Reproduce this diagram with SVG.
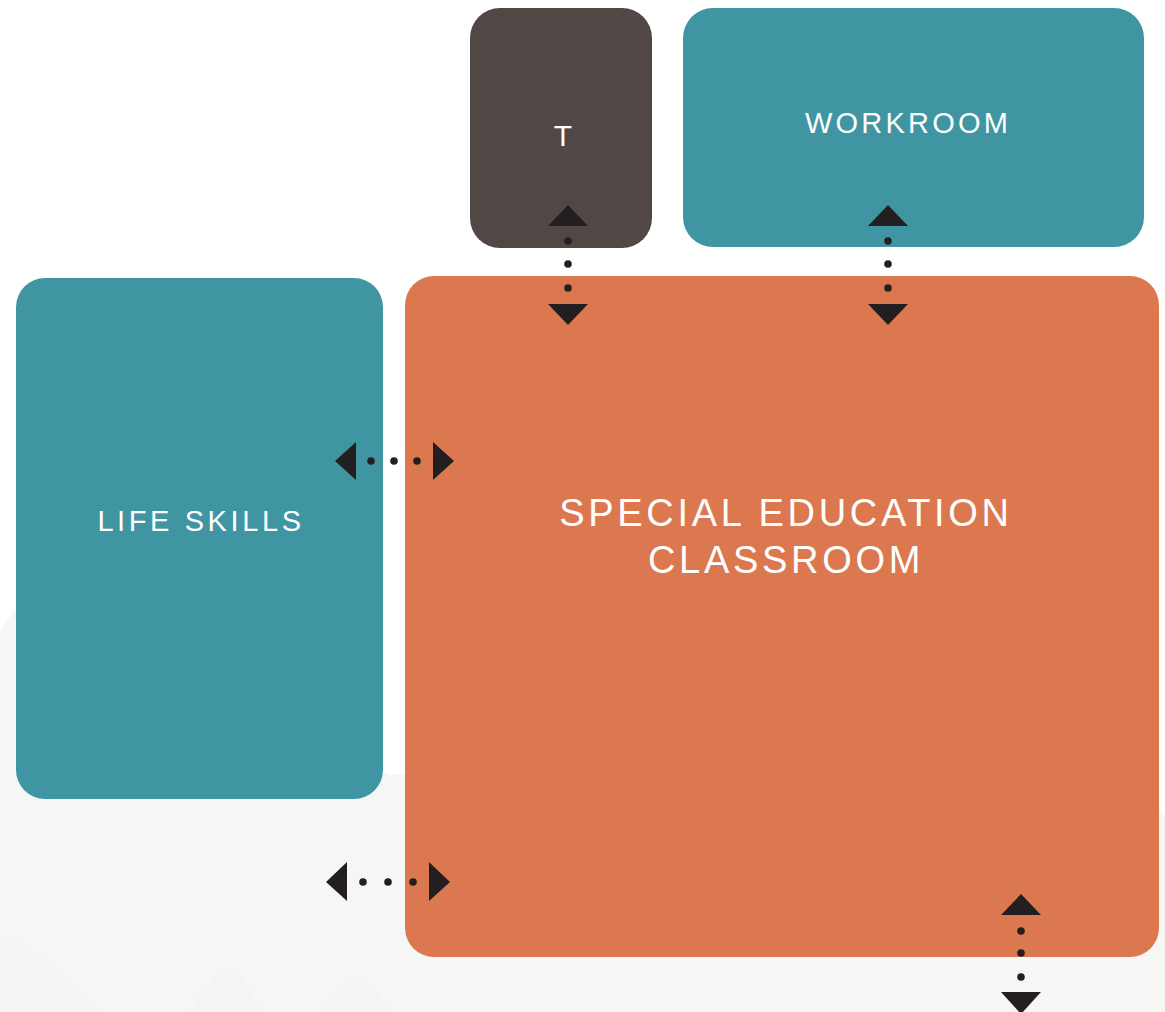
<svg xmlns="http://www.w3.org/2000/svg" width="1165" height="1012" viewBox="0 0 1165 1012">
  <defs>
    <style>
      .lbl { font-family: "Liberation Sans", Arial, sans-serif; fill: #ffffff; text-anchor: middle; }
      .arr { fill: #231f20; }
      .dot { fill: #231f20; }
    </style>
  </defs>
  <rect x="0" y="0" width="1165" height="1012" fill="#ffffff"/>
  <g id="background">
    <path d="M0,632 C12,612 28,592 45,578 L390,775 C395,774 400,774 405,774 L1160,812 L1165,816 L1165,1012 L0,1012 Z" fill="#f6f6f5"/>
    <path d="M0,935 C30,940 60,975 100,1012 L0,1012 Z" fill="#f4f4f3"/>
    <path d="M190,1012 C205,990 215,968 228,968 C242,968 250,995 262,1012 Z" fill="#f4f4f3"/>
    <path d="M320,1012 C335,995 345,978 355,978 C368,978 378,995 392,1012 Z" fill="#f4f4f3"/>
  </g>
  <g id="node-t">
    <rect x="470" y="8" width="182" height="240" rx="30" fill="#514845"/>
    <text class="lbl" x="563" y="146" font-size="30">T</text>
  </g>
  <g id="node-workroom">
    <rect x="683" y="8" width="461" height="239" rx="30" fill="#4095a2"/>
    <text class="lbl" x="908" y="133" font-size="29" letter-spacing="3.2">WORKROOM</text>
  </g>
  <g id="node-life-skills">
    <rect x="16" y="278" width="367" height="521" rx="29" fill="#4095a2"/>
    <text class="lbl" x="201" y="531" font-size="29" letter-spacing="3.6">LIFE SKILLS</text>
  </g>
  <g id="node-classroom">
    <rect x="405" y="276" width="754" height="681" rx="29" fill="#dc784f"/>
    <text class="lbl" x="786" y="526" font-size="38" letter-spacing="3.7">SPECIAL EDUCATION</text>
    <text class="lbl" x="786" y="573" font-size="38" letter-spacing="3.7">CLASSROOM</text>
  </g>
  <g id="connectors">
    <g id="conn-t">
      <polygon class="arr" points="568,205 588,226 548,226"/>
      <circle class="dot" cx="568" cy="241" r="3.8"/>
      <circle class="dot" cx="568" cy="264" r="3.8"/>
      <circle class="dot" cx="568" cy="288" r="3.8"/>
      <polygon class="arr" points="548,304 588,304 568,325"/>
    </g>
    <g id="conn-workroom">
      <polygon class="arr" points="888,205 908,226 868,226"/>
      <circle class="dot" cx="888" cy="241" r="3.8"/>
      <circle class="dot" cx="888" cy="264" r="3.8"/>
      <circle class="dot" cx="888" cy="288" r="3.8"/>
      <polygon class="arr" points="868,304 908,304 888,325"/>
    </g>
    <g id="conn-life-skills">
      <polygon class="arr" points="335,461 356,442 356,480"/>
      <circle class="dot" cx="371" cy="461" r="3.8"/>
      <circle class="dot" cx="394" cy="461" r="3.8"/>
      <circle class="dot" cx="417" cy="461" r="3.8"/>
      <polygon class="arr" points="433,442 454,461 433,480"/>
    </g>
    <g id="conn-bottom-left">
      <polygon class="arr" points="326,882 347,862 347,901"/>
      <circle class="dot" cx="363" cy="882" r="3.8"/>
      <circle class="dot" cx="388" cy="882" r="3.8"/>
      <circle class="dot" cx="413" cy="882" r="3.8"/>
      <polygon class="arr" points="429,862 450,882 429,901"/>
    </g>
    <g id="conn-bottom-right">
      <polygon class="arr" points="1021,894 1041,915 1001,915"/>
      <circle class="dot" cx="1021" cy="931" r="3.8"/>
      <circle class="dot" cx="1021" cy="953" r="3.8"/>
      <circle class="dot" cx="1021" cy="977" r="3.8"/>
      <polygon class="arr" points="1001,992 1041,992 1021,1014"/>
    </g>
  </g>
</svg>
